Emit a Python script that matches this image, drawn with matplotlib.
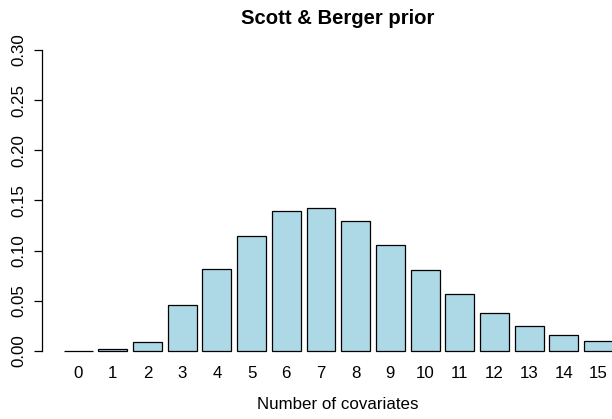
import matplotlib.pyplot as plt
import numpy as np

# number of covariates and prior probability
covariates = list(range(16))
prob = [0.0003, 0.0023, 0.0093, 0.0458, 0.0814, 0.1148, 0.1400, 0.1427,
        0.1295, 0.1059, 0.0804, 0.0565, 0.0382, 0.0249, 0.0156, 0.0100]
yticks = [0.00, 0.05, 0.10, 0.15, 0.20, 0.25, 0.30]

plt.rcParams['font.family'] = ['Liberation Sans', 'DejaVu Sans']

W, H = 612, 419
fig = plt.figure(figsize=(W / 100, H / 100), dpi=100)
# plot region runs past the right edge like the original (cropped) R figure
ax = fig.add_axes([42 / W, 56 / H, 593 / W, 325 / H])

x = np.arange(len(covariates))
ax.bar(x, prob, width=1 / 1.2, color='#ADD8E6', edgecolor='black', linewidth=0.9)

ax.set_xlim(-1.04, 16.05)
ax.set_ylim(-0.012, 0.312)

for s in ['top', 'right', 'bottom']:
    ax.spines[s].set_visible(False)
ax.spines['left'].set_bounds(0, 0.30)
ax.spines['left'].set_linewidth(0.9)

ax.set_yticks(yticks)
ax.set_yticklabels(['%.2f' % v for v in yticks], rotation=90, va='center')
ax.tick_params(axis='y', length=6, width=0.9, pad=5, labelsize=12.2)

ax.set_xticks(x)
ax.set_xticklabels([str(c) for c in covariates])
ax.tick_params(axis='x', length=0, pad=2, labelsize=12.2)

fig.text(338 / W, 1 - 19 / H, 'Scott & Berger prior', ha='center', va='center',
         fontsize=14.6, fontweight='bold')
fig.text(338 / W, 1 - 404 / H, 'Number of covariates', ha='center', va='center',
         fontsize=12.2)

fig.savefig('out.png', dpi=100)
